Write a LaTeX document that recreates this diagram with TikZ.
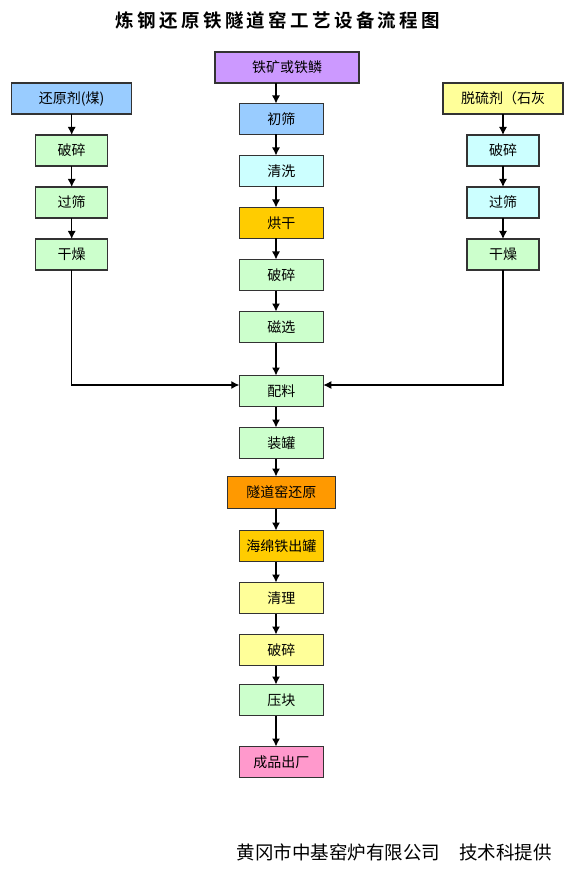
\documentclass[tikz,border=0pt]{standalone}
\usepackage{fontspec}
\newfontfamily\cjk{Noto Sans CJK SC}
\newfontfamily\cjkbold[LetterSpace=18]{Noto Sans CJK SC Bold}
\usetikzlibrary{positioning,arrows.meta}

\definecolor{purplebox}{HTML}{CC99FF}
\definecolor{bluebox}{HTML}{99CCFF}
\definecolor{greenbox}{HTML}{CCFFCC}
\definecolor{cyanbox}{HTML}{CCFFFF}
\definecolor{goldbox}{HTML}{FFCC00}
\definecolor{orangebox}{HTML}{FF9900}
\definecolor{yellowbox}{HTML}{FFFF99}
\definecolor{pinkbox}{HTML}{FF99CC}

\begin{document}
\begin{tikzpicture}[x=1pt, y=-1pt, node distance=21pt, font=\cjk\fontsize{14}{16}\selectfont,
  box/.style={draw=black!80, line width=1.2pt, rectangle, minimum width=84pt, minimum height=31pt, inner sep=0pt, outer sep=0pt},
  sidebox/.style={box, minimum width=72pt},
  widebox/.style={box, minimum width=120pt},
  arr/.style={-{Latex[length=8pt,width=8pt]}, line width=1.2pt}]

\useasboundingbox (0,0) rectangle (564,874);

% Title and footer
\node (title) at (278,20) {\cjkbold\fontsize{18.5}{20}\selectfont 炼钢还原铁隧道窑工艺设备流程图};
\node (footer) [anchor=east, inner sep=0pt] at (552,852) {\fontsize{18.5}{20}\selectfont 黄冈市中基窑炉有限公司\hspace{19pt}技术科提供};

% Middle column
\node (kuang) [box, minimum width=144pt, fill=purplebox] at (287,67.5) {铁矿或铁鳞};
\node (chushai) [box, fill=bluebox] at (281.3,119) {初筛};
\node (qingxi) [box, fill=cyanbox, below=of chushai] {清洗};
\node (honggan) [box, fill=goldbox, below=of qingxi] {烘干};
\node (posuiM) [box, fill=greenbox, below=of honggan] {破碎};
\node (cixuan) [box, fill=greenbox, below=of posuiM] {磁选};
\node (peiliao) [box, fill=greenbox, below=33pt of cixuan] {配料};
\node (zhuangguan) [box, fill=greenbox, below=of peiliao] {装罐};
\node (suidao) [box, minimum width=108pt, minimum height=32pt, fill=orangebox, below=18pt of zhuangguan] {隧道窑还原};
\node (haimian) [box, fill=goldbox, below=22pt of suidao] {海绵铁出罐};
\node (qingli) [box, fill=yellowbox, below=of haimian] {清理};
\node (posuiB) [box, fill=yellowbox, below=of qingli] {破碎};
\node (yakuai) [box, fill=greenbox, below=19pt of posuiB] {压块};
\node (chengpin) [box, fill=pinkbox, below=31pt of yakuai] {成品出厂};

% Left column
\node (huanyuan) [widebox, fill=bluebox] at (71.7,98.5) {还原剂(煤)};
\node (posuiL) [sidebox, fill=greenbox, below=of huanyuan] {破碎};
\node (guoshaiL) [sidebox, fill=greenbox, below=of posuiL] {过筛};
\node (ganzaoL) [sidebox, fill=greenbox, below=of guoshaiL] {干燥};

% Right column
\node (tuoliu) [widebox, fill=yellowbox] at (503,98.5) {脱硫剂（石灰};
\node (posuiR) [sidebox, fill=cyanbox, below=of tuoliu] {破碎};
\node (guoshaiR) [sidebox, fill=cyanbox, below=of posuiR] {过筛};
\node (ganzaoR) [sidebox, fill=greenbox, below=of guoshaiR] {干燥};

% Arrows
\coordinate (axis) at (276,0);
\draw[arr] (kuang.south -| axis) -- (chushai.north -| axis);
\draw[arr] (chushai.south -| axis) -- (qingxi.north -| axis);
\draw[arr] (qingxi.south -| axis) -- (honggan.north -| axis);
\draw[arr] (honggan.south -| axis) -- (posuiM.north -| axis);
\draw[arr] (posuiM.south -| axis) -- (cixuan.north -| axis);
\draw[arr] (cixuan.south -| axis) -- (peiliao.north -| axis);
\draw[arr] (peiliao.south -| axis) -- (zhuangguan.north -| axis);
\draw[arr] (zhuangguan.south -| axis) -- (suidao.north -| axis);
\draw[arr] (suidao.south -| axis) -- (haimian.north -| axis);
\draw[arr] (haimian.south -| axis) -- (qingli.north -| axis);
\draw[arr] (qingli.south -| axis) -- (posuiB.north -| axis);
\draw[arr] (posuiB.south -| axis) -- (yakuai.north -| axis);
\draw[arr] (yakuai.south -| axis) -- (chengpin.north -| axis);

\draw[arr] (huanyuan) -- (posuiL);
\draw[arr] (posuiL) -- (guoshaiL);
\draw[arr] (guoshaiL) -- (ganzaoL);
\draw[arr] (ganzaoL.south) |- ([yshift=6pt]peiliao.west);

\draw[arr] (tuoliu) -- (posuiR);
\draw[arr] (posuiR) -- (guoshaiR);
\draw[arr] (guoshaiR) -- (ganzaoR);
\draw[arr] (ganzaoR.south) |- ([yshift=6pt]peiliao.east);

\end{tikzpicture}
\end{document}
